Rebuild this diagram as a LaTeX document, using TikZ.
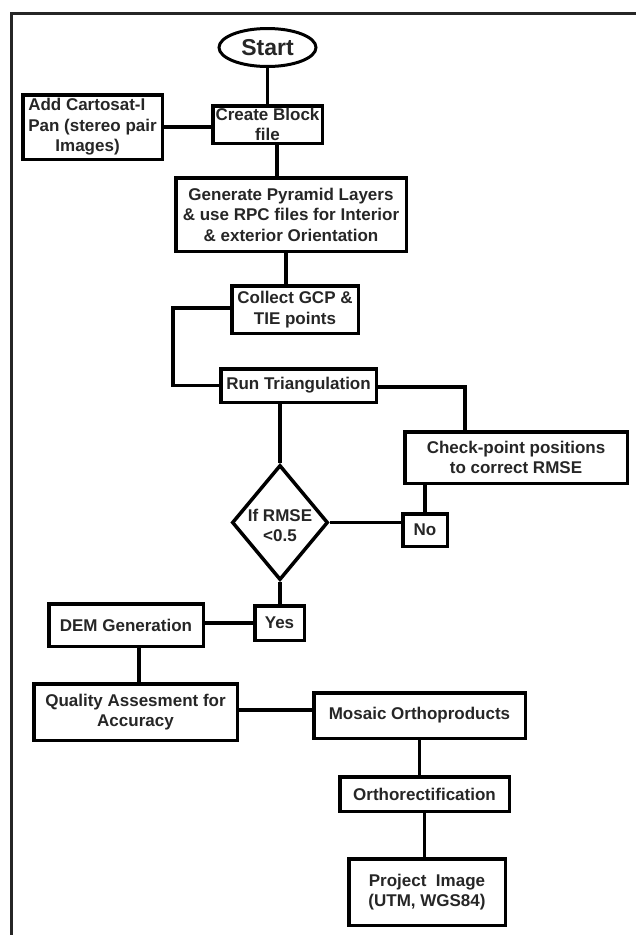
\documentclass[tikz,border=0pt]{standalone}
\usepackage{fontspec}
\setmainfont{Liberation Sans}
\usetikzlibrary{shapes.geometric}
\begin{document}
\begin{tikzpicture}[x=1pt,y=-1pt,
  box/.style={draw=black, line width=3.5pt, rectangle, align=center, inner sep=2pt,
    font=\fontsize{17}{20.5}\selectfont\bfseries, text=black!85},
  conn/.style={line width=3.2pt, draw=black},
  frame/.style={line width=3pt, draw=black!85}]
\useasboundingbox (0,0) rectangle (636,935);
\draw[frame] (11,935) -- (11,13) -- (636,13);

\node[ellipse, draw=black, line width=3pt, minimum width=97pt, minimum height=38pt, inner sep=0pt,
  font=\fontsize{23}{24}\selectfont\bfseries, text=black!85] (start) at (267.5,47.5) {Start};
\node[box, align=left, minimum width=139.5pt, minimum height=64.5pt] (cart) at (92.5,127)
  {Add Cartosat-I\\Pan (stereo pair\\\hspace*{1.6em}Images)};
\node[box, minimum width=109.5pt, minimum height=37.5pt] (create) at (267.5,124.5) {Create Block\\file};
\node[box, minimum width=230.5pt, minimum height=73.5pt] (gen) at (291,214.5)
  {Generate Pyramid Layers\\\& use RPC files for Interior\\\& exterior Orientation};
\node[box, minimum width=126.5pt, minimum height=47.5pt] (collect) at (295,309.5) {Collect GCP \&\\TIE points};
\node[box, minimum width=155.5pt, minimum height=33.5pt] (run) at (298.5,385.5) {Run Triangulation};
\node[box, minimum width=222.5pt, minimum height=51.5pt] (check) at (516,457.5) {Check-point positions\\to correct RMSE};
\node[diamond, draw=black, line width=3.5pt, minimum width=96pt, minimum height=115pt, inner sep=0pt,
  font=\fontsize{17}{20.5}\selectfont\bfseries, text=black!85] (dia) at (280,522.5)
  {\raisebox{-7pt}[0pt][0pt]{\parbox{70pt}{\centering If RMSE\\<0.5}}};
\node[box, minimum width=44.5pt, minimum height=32.5pt] (no) at (425,530) {No};
\node[box, minimum width=49.5pt, minimum height=34.5pt] (yes) at (279.5,623) {Yes};
\node[box, minimum width=154.5pt, minimum height=42.5pt] (dem) at (126,625) {DEM Generation};
\node[box, minimum width=203.5pt, minimum height=56.5pt] (qual) at (135.5,712) {Quality Assesment for\\Accuracy};
\node[box, minimum width=211.5pt, minimum height=45.5pt] (mosaic) at (419.5,715.5) {Mosaic Orthoproducts};
\node[box, minimum width=169.5pt, minimum height=34.5pt] (ortho) at (424.5,794) {Orthorectification};
\node[box, minimum width=156.5pt, minimum height=66.5pt] (proj) at (427,892) {Project\ \ Image\\(UTM, WGS84)};

\draw[conn] (start.south) -- (create.north);
\draw[conn] (cart.east) -- (cart.east -| create.west);
\draw[conn] ([xshift=9.5pt]create.south) -- ([xshift=9.5pt]create.south |- gen.north);
\draw[conn] ([xshift=-5pt]gen.south) -- ([xshift=-5pt]gen.south |- collect.north);
\draw[conn] ([yshift=1.5pt]collect.west) -- ++(-57pt,0pt) |- (run.west);
\draw[conn] (dia.north |- run.south) -- (dia.north);
\draw[conn] ([yshift=-1.5pt]run.east) -| ([xshift=-51pt]check.north);
\draw[conn] (no.north |- check.south) -- (no.north);
\draw[conn] (dia.east) -- (dia.east -| no.west);
\draw[conn] (dia.south) -- (dia.south |- yes.north);
\draw[conn] (yes.west) -- (yes.west -| dem.east);
\draw[conn] ([xshift=13pt]dem.south) -- ([xshift=13pt]dem.south |- qual.north);
\draw[conn] ([yshift=2pt]qual.east) -- ([yshift=2pt]qual.east -| mosaic.west);
\draw[conn] (mosaic.south) -- (mosaic.south |- ortho.north);
\draw[conn] (ortho.south) -- (ortho.south |- proj.north);
\end{tikzpicture}
\end{document}
